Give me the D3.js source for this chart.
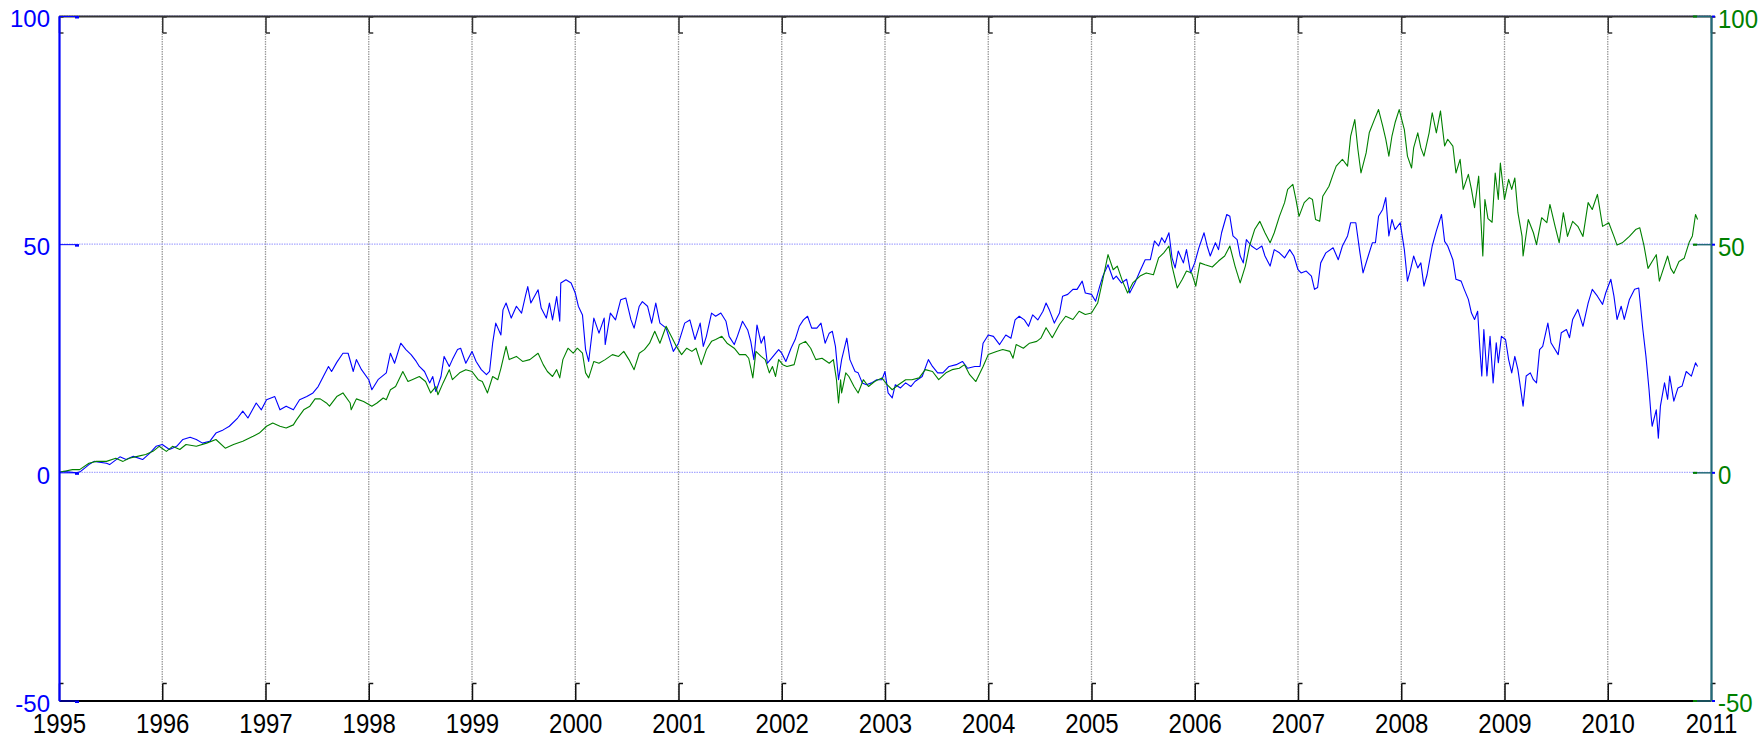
<!DOCTYPE html>
<html>
<head>
<meta charset="utf-8">
<script src="https://cdn.jsdelivr.net/npm/d3@7/dist/d3.min.js"></script>
<style>
  html, body { margin: 0; padding: 0; background: #fff; }
  svg { display: block; font-family: "Liberation Sans", Arial, sans-serif; }
</style>
</head>
<body>
<svg id="chart" width="1764" height="737"></svg>
<script>
// ---- tick labels ----
const yearTicks = d3.range(1995, 2012);
const leftTicks = [-50, 0, 50, 100];
const rightTicks = [-50, 0, 50, 100];

// ---- blue series (left axis): decimal year, cumulative value ----
const blueYears = [
  1995.00,1995.04,1995.17,1995.21,1995.29,1995.34,1995.46,1995.49,1995.59,1995.65,1995.72,1995.81,1995.88,1995.94,
  1996.00,1996.07,1996.14,1996.20,1996.27,1996.33,1996.39,1996.46,1996.52,1996.59,1996.65,1996.73,1996.78,1996.83,1996.91,1996.96,
  1997.01,1997.09,1997.14,1997.20,1997.27,1997.33,1997.40,1997.46,1997.51,1997.56,1997.61,1997.64,1997.69,1997.75,1997.80,1997.85,1997.88,1997.93,
  1998.00,1998.03,1998.09,1998.17,1998.21,1998.25,1998.31,1998.36,1998.41,1998.46,1998.49,1998.54,1998.59,1998.62,1998.65,1998.70,1998.73,1998.78,1998.81,1998.86,1998.89,1998.94,
  1999.00,1999.04,1999.09,1999.14,1999.17,1999.20,1999.23,1999.28,1999.30,1999.33,1999.38,1999.43,1999.48,1999.52,1999.54,1999.57,1999.64,1999.67,1999.72,1999.75,1999.78,1999.82,1999.85,1999.86,1999.91,1999.96,
  2000.00,2000.03,2000.07,2000.10,2000.13,2000.18,2000.23,2000.28,2000.29,2000.34,2000.39,2000.44,2000.49,2000.54,2000.57,2000.62,2000.65,2000.70,2000.74,2000.78,2000.82,2000.88,2000.95,
  2001.00,2001.06,2001.11,2001.16,2001.21,2001.24,2001.27,2001.32,2001.36,2001.41,2001.46,2001.49,2001.54,2001.57,2001.62,2001.67,2001.70,2001.73,2001.76,2001.80,2001.83,2001.86,2001.89,2001.93,2001.97,
  2002.00,2002.04,2002.09,2002.13,2002.17,2002.21,2002.25,2002.29,2002.34,2002.38,2002.42,2002.46,2002.49,2002.52,2002.55,2002.58,2002.63,2002.66,2002.71,2002.74,2002.78,2002.82,2002.87,2002.92,2002.97,
  2003.00,2003.03,2003.07,2003.10,2003.15,2003.20,2003.25,2003.29,2003.36,2003.42,2003.46,2003.51,2003.56,2003.62,2003.69,2003.75,2003.80,2003.87,2003.92,2003.95,
  2004.00,2004.05,2004.11,2004.17,2004.22,2004.26,2004.30,2004.35,2004.39,2004.43,2004.48,2004.53,2004.56,2004.59,2004.64,2004.69,2004.72,2004.77,2004.82,2004.86,2004.91,2004.94,
  2005.00,2005.04,2005.08,2005.11,2005.16,2005.21,2005.24,2005.29,2005.34,2005.37,2005.42,2005.47,2005.52,2005.57,2005.61,2005.65,2005.68,2005.71,2005.75,2005.78,2005.81,2005.84,2005.89,2005.92,2005.96,
  2006.00,2006.04,2006.09,2006.12,2006.15,2006.20,2006.23,2006.26,2006.31,2006.34,2006.37,2006.41,2006.44,2006.47,2006.50,2006.55,2006.60,2006.65,2006.68,2006.73,2006.77,2006.82,2006.87,2006.92,2006.96,
  2007.00,2007.03,2007.08,2007.13,2007.16,2007.19,2007.22,2007.27,2007.34,2007.39,2007.43,2007.48,2007.51,2007.56,2007.60,2007.63,2007.68,2007.72,2007.75,2007.78,2007.82,2007.85,2007.88,2007.91,2007.94,2007.99,
  2008.03,2008.06,2008.09,2008.12,2008.16,2008.19,2008.22,2008.25,2008.30,2008.34,2008.39,2008.42,2008.45,2008.50,2008.53,2008.58,2008.61,2008.65,2008.68,2008.71,2008.74,2008.76,2008.78,2008.80,2008.83,2008.86,2008.89,2008.92,2008.94,2008.97,
  2009.01,2009.04,2009.07,2009.10,2009.13,2009.18,2009.21,2009.25,2009.28,2009.31,2009.34,2009.37,2009.42,2009.45,2009.52,2009.55,2009.60,2009.63,2009.66,2009.71,2009.76,2009.81,2009.85,2009.90,2009.95,2009.98,
  2010.03,2010.06,2010.09,2010.13,2010.16,2010.21,2010.26,2010.30,2010.34,2010.37,2010.40,2010.42,2010.43,2010.47,2010.49,2010.51,2010.55,2010.58,2010.60,2010.64,2010.68,2010.72,2010.76,2010.81,2010.85,2010.87
];
const blueValues = [
  0,0.2,-0.1,0.2,1.7,2.4,2.0,1.7,3.4,2.8,3.5,2.8,4.2,5.7,
  6.1,5.0,5.7,7.2,7.7,7.2,6.4,6.8,8.6,9.3,10.1,11.9,13.4,11.9,15.2,13.7,
  15.9,16.6,13.7,14.5,13.7,15.9,16.6,17.4,18.8,21.0,23.2,22.1,24.1,26.1,26.1,22.1,24.7,22.5,
  20.3,18.1,20.3,21.8,26.1,23.9,28.3,26.9,25.8,24.3,23.2,22.1,19.6,21.0,17.7,21.0,25.4,23.2,24.7,26.9,27.2,23.9,
  26.5,24.3,22.5,21.4,22.1,28.3,32.7,30.1,35.6,37.1,33.8,36.4,34.9,38.9,40.7,37.1,40.0,36.0,33.8,37.1,33.4,38.5,33.1,41.5,42.2,41.5,
  39.3,36.4,34.5,26.9,24.3,33.8,30.5,33.8,28.0,34.9,33.4,37.8,38.2,33.4,31.6,36.4,37.4,36.4,32.7,37.1,32.7,31.6,26.5,
  28.3,32.7,33.4,29.1,32.7,27.6,29.8,34.9,34.2,34.9,33.1,29.8,28.0,29.8,33.1,31.2,28.7,24.7,32.3,28.3,29.8,23.9,24.7,25.8,26.9,
  26.1,24.3,27.2,29.1,32.0,33.4,34.2,31.6,31.6,32.7,28.3,30.5,30.9,27.6,20.3,24.7,29.4,24.7,22.1,21.8,19.6,19.2,19.6,20.3,20.3,
  22.1,17.4,16.3,19.2,18.5,19.6,18.8,19.9,21.0,24.7,23.2,21.8,21.8,23.2,23.6,24.3,22.8,23.2,23.2,28.3,
  30.1,29.8,28.0,30.1,29.4,33.4,34.2,33.4,32.0,34.5,33.4,35.3,37.1,35.7,32.7,34.9,38.6,39.0,40.1,40.1,41.9,39.3,
  39.0,37.5,40.8,43.0,45.5,42.3,43.0,41.5,42.3,39.3,41.5,44.1,46.6,46.6,50.7,49.6,51.4,50.3,52.5,47.0,44.8,48.5,45.9,48.8,43.7,
  45.9,49.2,52.5,49.6,47.4,50.3,48.8,52.5,56.5,56.1,51.8,51.0,47.4,45.9,51.0,49.6,48.8,49.6,47.4,45.2,48.8,48.1,47.0,48.8,47.4,
  44.4,43.7,44.1,43.0,40.1,40.5,45.9,48.1,49.2,46.6,49.6,51.8,54.7,54.7,48.1,43.7,47.4,50.3,50.3,56.1,57.6,60.2,51.8,55.4,53.2,54.7,
  48.8,41.9,44.4,47.4,44.8,45.9,40.8,43.3,49.6,52.9,56.5,50.6,49.6,46.6,42.3,41.9,40.1,37.9,34.9,33.5,35.3,27.6,21.1,31.3,21.1,29.8,19.6,28.4,24.0,29.8,
  29.1,24.7,21.8,25.4,22.5,14.5,21.1,21.8,20.3,19.6,26.9,27.6,32.7,28.4,25.8,30.6,31.3,29.5,33.5,35.7,32.0,37.1,40.1,38.6,36.8,39.3,
  42.3,38.6,33.5,36.4,33.5,37.9,40.1,40.4,31.3,25.4,18.1,12.3,10.1,13.7,7.5,14.5,19.6,16.0,21.1,15.6,18.5,18.9,22.1,21.1,24.0,23.2
];

// ---- green series (right axis): decimal year, cumulative value ----
const greenYears = [
  1995.00,1995.04,1995.13,1995.20,1995.29,1995.36,1995.46,1995.55,1995.62,1995.68,1995.78,1995.84,1995.91,1995.97,
  1996.04,1996.10,1996.17,1996.23,1996.33,1996.43,1996.52,1996.61,1996.69,1996.78,1996.88,1996.94,
  1997.01,1997.07,1997.14,1997.20,1997.27,1997.30,1997.37,1997.43,1997.48,1997.53,1997.59,1997.62,1997.69,1997.75,1997.82,1997.83,1997.88,1997.95,
  1998.03,1998.08,1998.14,1998.17,1998.21,1998.26,1998.33,1998.38,1998.42,1998.49,1998.55,1998.60,1998.65,1998.67,1998.72,1998.78,1998.81,1998.88,1998.94,
  1999.00,1999.06,1999.10,1999.15,1999.20,1999.25,1999.28,1999.33,1999.36,1999.43,1999.49,1999.56,1999.64,1999.69,1999.73,1999.78,1999.82,1999.85,1999.88,1999.93,1999.98,
  2000.02,2000.07,2000.10,2000.13,2000.18,2000.23,2000.29,2000.36,2000.42,2000.47,2000.52,2000.57,2000.62,2000.67,2000.72,2000.77,2000.82,2000.88,2000.93,2000.98,
  2001.03,2001.08,2001.13,2001.17,2001.22,2001.27,2001.32,2001.36,2001.42,2001.47,2001.54,2001.59,2001.65,2001.68,2001.72,2001.75,2001.80,2001.84,2001.88,2001.91,2001.94,2001.97,
  2002.01,2002.05,2002.12,2002.17,2002.23,2002.28,2002.33,2002.39,2002.46,2002.50,2002.53,2002.55,2002.57,2002.58,2002.62,2002.65,2002.70,2002.74,2002.79,2002.84,2002.90,2002.97,
  2003.02,2003.07,2003.13,2003.20,2003.26,2003.33,2003.39,2003.46,2003.52,2003.59,2003.65,2003.72,2003.77,2003.82,2003.88,2003.95,
  2004.00,2004.08,2004.14,2004.21,2004.24,2004.27,2004.34,2004.40,2004.47,2004.51,2004.56,2004.62,2004.69,2004.75,2004.82,2004.88,2004.94,
  2005.00,2005.06,2005.11,2005.16,2005.21,2005.25,2005.30,2005.35,2005.40,2005.47,2005.53,2005.60,2005.65,2005.70,2005.75,2005.78,2005.83,2005.88,2005.92,2005.97,
  2006.01,2006.05,2006.10,2006.17,2006.23,2006.29,2006.34,2006.39,2006.44,2006.49,2006.53,2006.58,2006.63,2006.68,2006.73,2006.77,2006.82,2006.87,2006.90,2006.95,2006.98,
  2007.01,2007.06,2007.11,2007.14,2007.17,2007.21,2007.24,2007.30,2007.34,2007.37,2007.43,2007.48,2007.51,2007.55,2007.58,2007.61,2007.66,2007.69,2007.74,2007.78,2007.82,2007.85,2007.88,2007.91,2007.94,2007.98,
  2008.03,2008.06,2008.10,2008.12,2008.16,2008.19,2008.22,2008.27,2008.30,2008.34,2008.38,2008.42,2008.45,2008.50,2008.53,2008.57,2008.60,2008.65,2008.68,2008.71,2008.75,2008.78,2008.79,2008.81,2008.84,2008.88,2008.91,2008.94,2008.96,
  2009.00,2009.04,2009.07,2009.10,2009.13,2009.17,2009.18,2009.23,2009.28,2009.31,2009.36,2009.41,2009.44,2009.49,2009.53,2009.57,2009.61,2009.66,2009.71,2009.76,2009.81,2009.85,2009.90,2009.95,
  2010.01,2010.06,2010.09,2010.14,2010.21,2010.27,2010.31,2010.35,2010.39,2010.43,2010.47,2010.50,2010.53,2010.58,2010.61,2010.64,2010.69,2010.74,2010.79,2010.82,2010.85,2010.87
];
const greenValues = [
  0,0.2,0.6,0.6,2.0,2.4,2.4,3.1,2.4,3.1,3.6,3.9,4.6,5.7,
  4.6,5.7,5.0,6.1,5.7,6.4,7.2,5.3,6.1,6.8,7.9,8.6,
  10.1,10.8,10.1,9.7,10.4,11.5,13.7,14.5,16.1,16.1,15.2,14.5,16.6,17.4,15.2,13.7,16.1,15.5,
  14.5,15.2,16.3,15.9,18.1,18.8,22.1,19.9,20.3,21.0,19.9,17.4,18.8,17.0,19.6,22.5,20.3,21.8,22.5,
  22.1,20.3,19.9,17.4,21.0,20.3,22.8,27.6,24.7,25.4,24.3,24.7,26.1,23.6,22.1,21.0,22.5,20.7,24.7,27.2,26.1,
  27.2,26.1,21.8,20.7,24.3,23.9,24.7,25.8,25.4,26.5,24.7,22.5,26.1,26.9,28.3,30.9,28.3,32.0,29.8,27.6,
  25.8,27.2,26.5,27.2,23.6,26.9,28.7,29.1,29.8,28.3,27.2,25.8,25.8,25.0,20.7,26.5,25.4,24.7,21.8,23.2,21.0,24.7,
  23.6,23.2,23.6,28.0,28.7,27.2,24.7,25.0,23.9,24.7,20.3,15.2,20.3,17.4,21.8,21.0,18.8,17.4,20.3,18.8,19.9,20.7,
  19.2,18.1,19.2,20.3,20.3,20.7,22.5,22.1,20.3,21.8,22.5,22.8,23.6,21.4,19.9,23.2,
  25.8,26.5,26.9,26.5,25.0,28.0,27.2,28.3,28.7,29.4,31.7,29.5,32.4,34.2,33.5,35.3,34.6,
  34.9,37.1,42.3,47.7,44.4,45.2,41.9,39.3,41.5,43.0,43.7,43.3,47.0,48.1,49.6,45.2,40.4,42.3,44.1,43.7,
  40.8,45.9,45.5,45.0,46.3,47.4,49.6,45.2,41.5,45.2,49.6,53.2,55.0,52.5,50.3,52.5,56.1,59.1,62.0,63.1,59.8,
  56.1,59.1,60.2,59.8,55.4,55.0,60.5,62.7,65.3,67.1,68.6,67.1,73.7,77.3,70.8,65.6,70.0,74.4,77.3,79.5,75.9,73.0,69.3,73.7,76.6,79.5,
  75.1,69.3,66.7,71.1,74.4,71.1,69.3,74.4,78.8,74.4,79.2,71.5,73.0,71.5,65.6,68.6,62.0,65.3,62.0,58.0,64.9,51.7,47.4,59.8,55.6,54.8,65.6,59.8,67.8,
  59.8,64.2,62.0,64.5,56.9,51.7,47.4,55.4,52.5,49.9,55.8,54.7,58.7,53.9,50.3,56.9,51.7,55.0,53.9,51.7,59.1,57.6,60.9,53.9,
  54.7,51.7,49.8,50.3,51.7,53.2,53.6,49.8,44.7,46.2,47.7,41.9,44.0,47.4,44.7,43.6,46.2,46.9,50.5,51.8,56.5,55.4
];

const blueColor = "#0000ff";
const greenColor = "#008000";
const rightAxisColor = "#226a78";
const labelFont = "Liberation Sans, Arial, sans-serif";

const svg = d3.select("#chart");
const plotL = 59, plotR = 1711, plotT = 16, plotB = 700.5;

const x = d3.scaleLinear().domain([1995, 2011]).range([plotL, plotR]);
const yLeft = d3.scaleLinear().domain([-50, 100]).range([plotB, plotT]);
const yRight = d3.scaleLinear().domain([-50, 100]).range([plotB, plotT]);
const plainNumber = d => String(d);   // keeps the ASCII hyphen for negatives

// ---- grid ----
const grid = svg.append("g");
grid.selectAll("line.vgrid")
  .data(yearTicks.filter(d => d > 1995 && d < 2011))
  .join("line")
  .attr("class", "vgrid")
  .attr("x1", d => x(d)).attr("x2", d => x(d))
  .attr("y1", plotT).attr("y2", plotB)
  .attr("stroke", "#9a9a9a").attr("stroke-width", 1.3)
  .attr("stroke-dasharray", "1.5,1");
grid.selectAll("line.hgrid")
  .data(leftTicks.filter(d => d > -50))
  .join("line")
  .attr("class", "hgrid")
  .attr("x1", plotL).attr("x2", plotR)
  .attr("y1", d => yLeft(d)).attr("y2", d => yLeft(d))
  .attr("stroke", "#a8a8ff").attr("stroke-width", 1.3)
  .attr("stroke-dasharray", "1.5,1");

// ---- series ----
const blueData = blueYears.map((t, i) => ({ t, v: blueValues[i] }));
const greenData = greenYears.map((t, i) => ({ t, v: greenValues[i] }));

svg.append("path")
  .datum(blueData)
  .attr("fill", "none").attr("stroke", blueColor).attr("stroke-width", 1.1)
  .attr("stroke-linejoin", "round")
  .attr("d", d3.line().x(d => x(d.t)).y(d => yLeft(d.v)));

svg.append("path")
  .datum(greenData)
  .attr("fill", "none").attr("stroke", greenColor).attr("stroke-width", 1.1)
  .attr("stroke-linejoin", "round")
  .attr("d", d3.line().x(d => x(d.t)).y(d => yRight(d.v)));

// ---- axes ----
const fontSize = 24;

// bottom: year labels and inward ticks
const gBottom = svg.append("g").attr("transform", `translate(0,${plotB})`)
  .call(d3.axisBottom(x).tickValues(yearTicks).tickFormat(plainNumber)
    .tickSizeInner(-17).tickSizeOuter(0));
gBottom.select(".domain").attr("stroke", "#000").attr("stroke-width", 2);
gBottom.selectAll(".tick line").attr("stroke", "#111").attr("stroke-width", 1.5);
gBottom.selectAll(".tick").append("line")
  .attr("x1", 0).attr("x2", 4).attr("y1", -17).attr("y2", -17)
  .attr("stroke", "#111").attr("stroke-width", 1.5);
gBottom.selectAll(".tick text")
  .attr("y", null).attr("dy", null)
  .attr("transform", "translate(0,32.5) scale(1,1.12)")
  .attr("fill", "#000").attr("font-size", fontSize)
  .attr("font-family", labelFont);

// top: box edge with inward ticks
const gTop = svg.append("g").attr("transform", `translate(0,${plotT})`)
  .call(d3.axisTop(x).tickValues(yearTicks).tickFormat("")
    .tickSizeInner(-17).tickSizeOuter(0));
gTop.select(".domain").attr("stroke", "#333").attr("stroke-width", 2);
gTop.selectAll(".tick line").attr("stroke", "#333").attr("stroke-width", 1.5);
gTop.selectAll(".tick").append("line")
  .attr("x1", 0).attr("x2", 4).attr("y1", 17).attr("y2", 17)
  .attr("stroke", "#333").attr("stroke-width", 1.5);
gTop.selectAll(".tick").append("line")
  .attr("x1", 0).attr("x2", 4).attr("y1", 1).attr("y2", 1)
  .attr("stroke", "#333").attr("stroke-width", 1.5);

// left axis (blue series)
const gLeft = svg.append("g").attr("transform", `translate(${plotL},0)`)
  .call(d3.axisLeft(yLeft).tickValues(leftTicks).tickFormat(plainNumber)
    .tickSizeInner(-20).tickSizeOuter(0).tickPadding(9));
gLeft.select(".domain").attr("stroke", blueColor).attr("stroke-width", 2.2);
gLeft.selectAll(".tick line").attr("stroke", blueColor).attr("stroke-width", 1);
gLeft.selectAll(".tick").append("line")
  .attr("x1", 16).attr("x2", 20).attr("y1", 1).attr("y2", 1)
  .attr("stroke", blueColor).attr("stroke-width", 2);
gLeft.selectAll(".tick text")
  .attr("dy", null).attr("y", 10.7)
  .attr("fill", blueColor).attr("font-size", fontSize)
  .attr("font-family", labelFont);

// right axis (green series)
const gRight = svg.append("g").attr("transform", `translate(${plotR},0)`)
  .call(d3.axisRight(yRight).tickValues(rightTicks).tickFormat(plainNumber)
    .tickSizeInner(-18).tickSizeOuter(0).tickPadding(7));
gRight.select(".domain").attr("stroke", rightAxisColor).attr("stroke-width", 2.2);
gRight.selectAll(".tick line").attr("stroke", rightAxisColor).attr("stroke-width", 1.5);
gRight.selectAll(".tick").append("line")
  .attr("x1", -18).attr("x2", -14).attr("y1", 0).attr("y2", 0)
  .attr("stroke", greenColor).attr("stroke-width", 2);
gRight.selectAll(".tick").append("line")
  .attr("x1", 1).attr("x2", 4).attr("y1", 0).attr("y2", 0)
  .attr("stroke", blueColor).attr("stroke-width", 2);
gRight.selectAll(".tick text")
  .attr("dy", null).attr("y", null)
  .attr("transform", "translate(0,11) scale(1,1.07)")
  .attr("fill", greenColor).attr("font-size", fontSize)
  .attr("font-family", labelFont);
</script>
</body>
</html>
